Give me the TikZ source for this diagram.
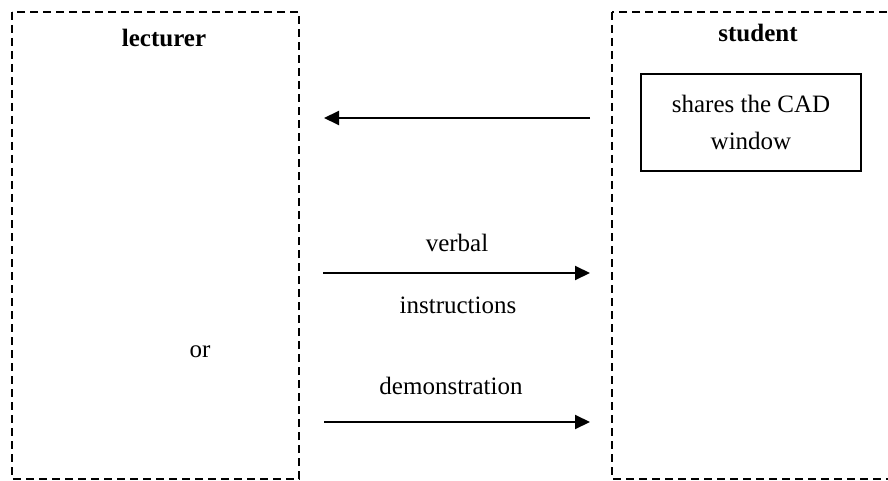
\documentclass[tikz,border=0pt]{standalone}
\usepackage{fontspec}
\setmainfont{Liberation Serif}
\usetikzlibrary{arrows.meta}
\begin{document}
\begin{tikzpicture}[x=1pt,y=-1pt,
  dashbox/.style={draw, dash pattern=on 8pt off 5pt, line width=1.3pt},
  lbl/.style={font=\fontsize{25}{35}\selectfont, inner sep=0pt},
  head/.style={font=\fontsize{25}{35}\selectfont\bfseries, inner sep=0pt},
  arr/.style={line width=2pt, -{Triangle[length=15pt,width=14pt]}}]
\useasboundingbox (0,0) rectangle (888,481);
\clip (0,0) rectangle (888,481);
\draw[dashbox] (12,12) rectangle (299,479);
\draw[dashbox] (612,12) rectangle (900,479);
\coordinate (lecturerbox) at (155,245);
\coordinate (studentbox) at (750,245);
\node[head] (lecturer) at (164,38) {lecturer};
\node[head] (student) at (758,33) {student};
\node[draw, line width=1.2pt, minimum width=220pt, minimum height=97pt, inner sep=0pt,
  align=center, font=\fontsize{25}{37}\selectfont] (cad) at (751,122.5) {shares the CAD\\window};
\coordinate (a1s) at (590,118);
\coordinate (a1e) at (324,118);
\coordinate (a2s) at (323,273);
\coordinate (a2e) at (590,273);
\coordinate (a3s) at (324,422);
\coordinate (a3e) at (590,422);
\draw[arr] (a1s) -- (a1e);
\draw[arr] (a2s) -- (a2e);
\draw[arr] (a3s) -- (a3e);
\node[lbl] (verbal) at (457,243) {verbal};
\node[lbl] (instr) at (458,305) {instructions};
\node[lbl] (demo) at (451,386) {demonstration};
\node[lbl] (or) at (200,352) {or};
\end{tikzpicture}
\end{document}
